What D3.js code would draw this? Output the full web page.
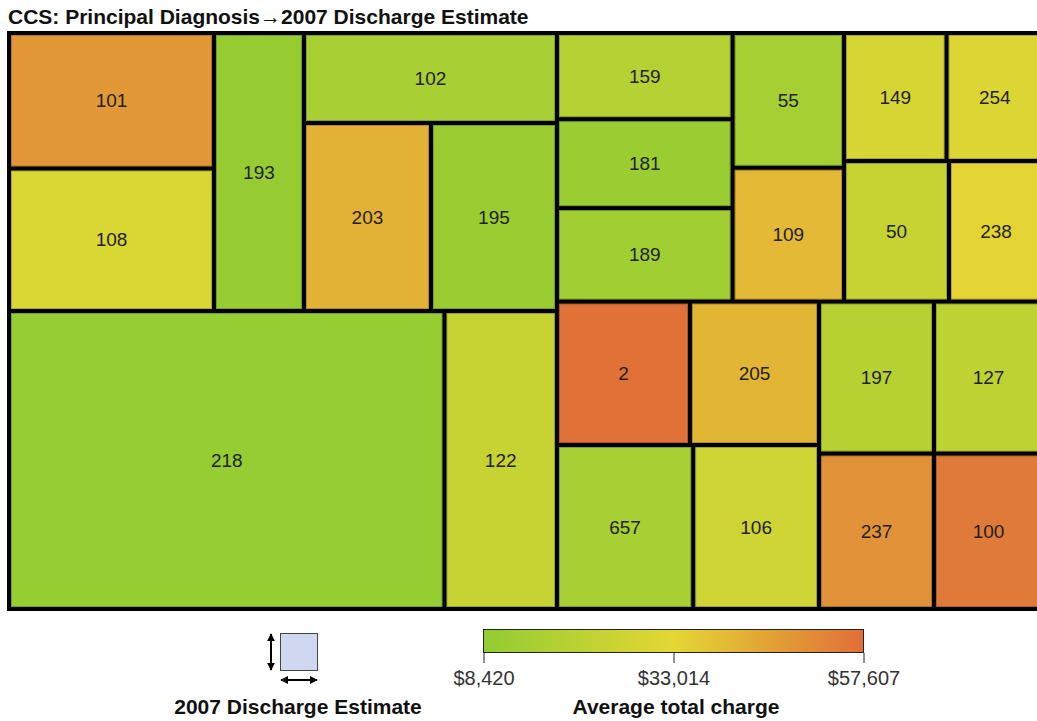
<!DOCTYPE html>
<html>
<head>
<meta charset="utf-8">
<script src="https://cdn.jsdelivr.net/npm/d3@7"></script>
<style>
  body { margin: 0; background: #fff; }
  text { font-family: "Liberation Sans", Arial, sans-serif; }
</style>
</head>
<body>
<svg id="chart" width="1037" height="721"></svg>
<script>
"use strict"

// CCS principal diagnosis codes, the nesting group each one sits in,
// the 2007 discharge estimate (tile area) and the average total charge (tile colour)
const codes = ["101", "108", "193", "102", "203", "195", "218", "122",
  "159", "181", "189", "55", "109", "149", "254", "50", "238",
  "2", "205", "657", "106", "197", "127", "237", "100"]

const groups = ["L/T/A", "L/T/A", "L/T", "L/T/C", "L/T/C/C2", "L/T/C/C2", "L/B", "L/B",
  "R/T/D", "R/T/D", "R/T/D", "R/T/E", "R/T/E", "R/T/F/1", "R/T/F/1", "R/T/F/2", "R/T/F/2",
  "R/B/P/1", "R/B/P/1", "R/B/P/2", "R/B/P/2", "R/B/Q/1", "R/B/Q/1", "R/B/Q/2", "R/B/Q/2"]

const discharges = [27780, 29210, 25020, 22770, 23880, 23690, 129780, 33520,
  15140, 15620, 16410, 15020, 14920, 13120, 12350, 14750, 13210,
  19090, 18510, 22350, 20620, 17480, 16570, 17880, 16950]

const avgCharges = [48000, 30000, 9500, 15000, 42000, 11000, 9600, 24000,
  19000, 10500, 13000, 14200, 40000, 29000, 30500, 24000, 33500,
  57000, 41000, 15000, 26500, 19500, 21500, 49500, 55000]

const chargeStops = [8420, 33014, 57607]
const chargeColors = ["#92cc32", "#e4d734", "#e06f38"]

const svg = d3.select("#chart")

const color = d3.scaleLinear().domain(chargeStops).range(chargeColors)

// build the nested data from the group paths, keeping the order of appearance
const rootData = { name: "root", children: [] }
codes.forEach((c, i) => {
  let node = rootData
  groups[i].split("/").forEach(g => {
    let next = node.children.find(ch => ch.name === g && ch.children)
    if (!next) {
      next = { name: g, children: [] }
      node.children.push(next)
    }
    node = next
  })
  node.children.push({ name: c, value: discharges[i], charge: avgCharges[i] })
})

const W = 1030, H = 572
const root = d3.hierarchy(rootData).sum(d => d.value || 0)
d3.treemap()
  .tile(d3.treemapSliceDice)
  .size([W, H])
  .paddingInner(4)(root)

const map = svg.append("g").attr("transform", "translate(11,35)")

map.append("rect")
  .attr("x", -4).attr("y", -4)
  .attr("width", W + 8).attr("height", H + 8)
  .attr("fill", "#000")

const leaves = map.selectAll("g.leaf")
  .data(root.leaves())
  .enter().append("g")
    .attr("class", "leaf")

leaves.append("rect")
  .attr("x", d => d.x0 + 0.5)
  .attr("y", d => d.y0 + 0.5)
  .attr("width", d => d.x1 - d.x0 - 1)
  .attr("height", d => d.y1 - d.y0 - 1)
  .attr("fill", d => color(d.data.charge))
  .attr("stroke", d => d3.color(color(d.data.charge)).darker(0.7))
  .attr("stroke-width", 1)

leaves.append("text")
  .attr("x", d => (d.x0 + d.x1) / 2)
  .attr("y", d => (d.y0 + d.y1) / 2)
  .attr("dy", "0.35em")
  .attr("text-anchor", "middle")
  .attr("font-size", 19)
  .attr("fill", "#222")
  .text(d => d.data.name)

// title
svg.append("text")
  .attr("x", 8).attr("y", 24)
  .attr("font-size", 21)
  .attr("font-weight", "bold")
  .attr("fill", "#111")
  .text("CCS: Principal Diagnosis\u21922007 Discharge Estimate")

// size legend
const defs = svg.append("defs")
defs.append("marker")
  .attr("id", "arrow")
  .attr("viewBox", "0 0 10 10")
  .attr("refX", 9).attr("refY", 5)
  .attr("markerWidth", 4).attr("markerHeight", 4)
  .attr("orient", "auto-start-reverse")
  .append("path")
    .attr("d", "M0,0L10,5L0,10Z")
    .attr("fill", "#000")

const sizeLeg = svg.append("g")
sizeLeg.append("rect")
  .attr("x", 280.5).attr("y", 633.5)
  .attr("width", 37).attr("height", 37)
  .attr("fill", "#cfd8ee")
  .attr("stroke", "#444")
sizeLeg.append("line")
  .attr("x1", 271).attr("x2", 271)
  .attr("y1", 634).attr("y2", 670)
  .attr("stroke", "#000").attr("stroke-width", 2)
  .attr("marker-start", "url(#arrow)").attr("marker-end", "url(#arrow)")
sizeLeg.append("line")
  .attr("x1", 281).attr("x2", 317)
  .attr("y1", 680).attr("y2", 680)
  .attr("stroke", "#000").attr("stroke-width", 2)
  .attr("marker-start", "url(#arrow)").attr("marker-end", "url(#arrow)")
sizeLeg.append("text")
  .attr("x", 298).attr("y", 714)
  .attr("text-anchor", "middle")
  .attr("font-size", 21).attr("font-weight", "bold")
  .attr("fill", "#111")
  .text("2007 Discharge Estimate")

// colour legend
const legX = d3.scaleLinear().domain([chargeStops[0], chargeStops[2]]).range([483.5, 863.5])

const grad = defs.append("linearGradient").attr("id", "chargeGrad")
chargeStops.forEach((v, i) => {
  grad.append("stop")
    .attr("offset", (v - chargeStops[0]) / (chargeStops[2] - chargeStops[0]))
    .attr("stop-color", chargeColors[i])
})

svg.append("rect")
  .attr("x", legX.range()[0]).attr("y", 629.5)
  .attr("width", legX.range()[1] - legX.range()[0]).attr("height", 23)
  .attr("fill", "url(#chargeGrad)")
  .attr("stroke", "#222")

const legAxis = svg.append("g")
  .attr("transform", "translate(0,653)")
  .call(d3.axisBottom(legX).tickValues(chargeStops).tickSize(10).tickPadding(8).tickFormat(d3.format("$,")))
legAxis.select(".domain").remove()
legAxis.selectAll(".tick line").attr("stroke", "#222")
legAxis.selectAll(".tick text")
  .attr("font-size", 20)
  .attr("font-family", "'Liberation Sans', Arial, sans-serif")
  .attr("fill", "#333")

svg.append("text")
  .attr("x", 676).attr("y", 714)
  .attr("text-anchor", "middle")
  .attr("font-size", 21).attr("font-weight", "bold")
  .attr("fill", "#111")
  .text("Average total charge")
</script>
</body>
</html>
